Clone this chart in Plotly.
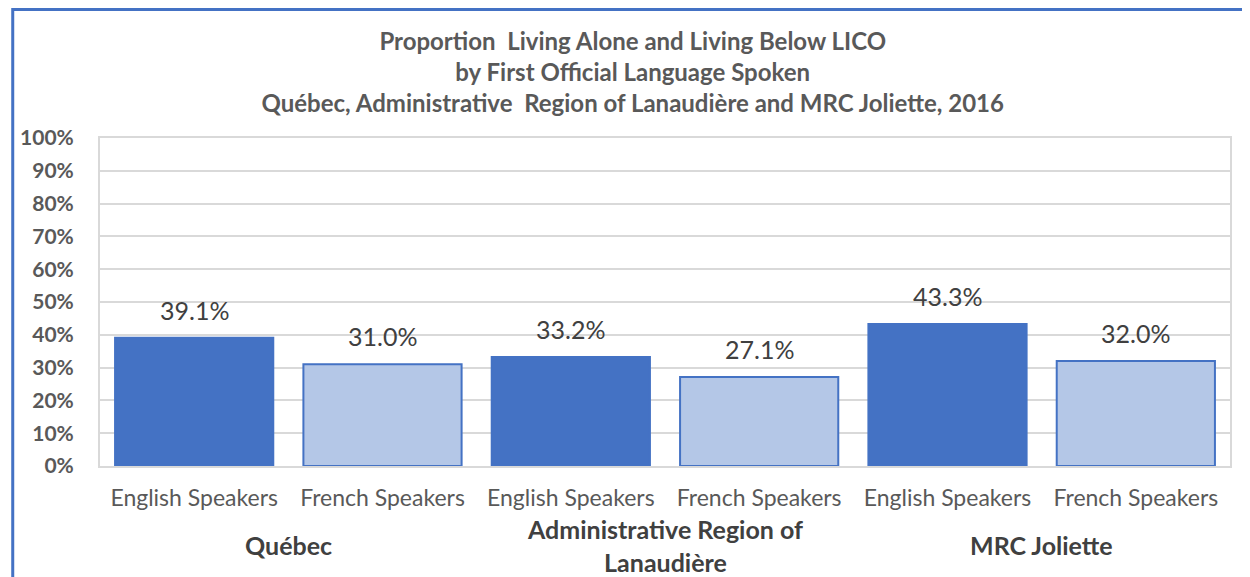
import plotly.graph_objects as go

groups = ["Québec", "Administrative Region of<br>Lanaudière", "MRC Joliette"]
subcats = ["English Speakers", "French Speakers"]
english = [39.1, 33.2, 43.3]
french = [31.0, 27.1, 32.0]
yticks = [0, 10, 20, 30, 40, 50, 60, 70, 80, 90, 100]
title_lines = [
    "Proportion  Living Alone and Living Below LICO",
    "by First Official Language Spoken",
    "Québec, Administrative  Region of Lanaudière and MRC Joliette, 2016",
]

FONT = "Lato, 'Open Sans', sans-serif"
DARK = "#4472C4"
LIGHT = "#B4C7E7"

W, H = 1242, 569
ML, MR, MT, MB = 89, 20, 130, 111
PW = W - ML - MR
PH = H - MT - MB

xs, ys, colors, labels = [], [], [], []
for gi, g in enumerate(groups):
    for si, s in enumerate(subcats):
        xs.append(gi * len(subcats) + si)
        ys.append(english[gi] if si == 0 else french[gi])
        colors.append(DARK if si == 0 else LIGHT)
        labels.append(s)

fig = go.Figure()
fig.add_trace(go.Bar(
    x=xs, y=ys,
    marker=dict(color=colors, line=dict(color=DARK, width=2)),
    width=0.84,
    showlegend=False,
    hoverinfo="skip",
))

for x, y in zip(xs, ys):
    fig.add_annotation(
        x=x, y=y, xref="x", yref="y", text=f"{y:.1f}%", showarrow=False,
        yanchor="middle", yshift=28,
        font=dict(family=FONT, size=25, color="#404040"),
    )

for gi, g in enumerate(groups):
    center = gi * len(subcats) + (len(subcats) - 1) / 2
    fig.add_annotation(
        x=center, xref="x", y=-79 / PH, yref="paper",
        text=f"<b>{g}</b>", showarrow=False, yanchor="middle",
        font=dict(family=FONT, size=25, color="#404040"),
    )

fig.update_layout(
    width=W, height=H,
    margin=dict(l=ML, r=MR, t=MT, b=MB),
    paper_bgcolor="white", plot_bgcolor="white",
    title=dict(
        text="<br>".join(f"<b>{t}</b>" for t in title_lines),
        x=0.503, xanchor="center", y=1 - 42 / H, yanchor="middle",
        font=dict(family=FONT, size=24, color="#595959"),
    ),
    xaxis=dict(
        range=[-0.5, len(xs) - 0.5],
        tickmode="array", tickvals=xs, ticktext=labels,
        tickfont=dict(family=FONT, size=23, color="#595959"),
        showgrid=False, zeroline=False,
        showline=True, linecolor="#d9d9d9", linewidth=2, mirror=True,
        ticks="outside", ticklen=10, tickcolor="rgba(0,0,0,0)",
    ),
    yaxis=dict(
        range=[0, 100], tickmode="array", tickvals=yticks,
        ticktext=[f"{v}%" for v in yticks],
        tickfont=dict(family=FONT, size=21, color="#595959", weight="bold"),
        showgrid=True, gridcolor="#d9d9d9", gridwidth=2,
        zeroline=False,
        showline=True, linecolor="#d9d9d9", linewidth=2, mirror=True,
        ticklabelstandoff=20,
    ),
    shapes=[dict(
        type="rect", xref="paper", yref="paper",
        x0=(1.5 - ML) / PW, x1=1.2, y0=-0.6, y1=1 + (MT - 1.5) / PH,
        line=dict(color=DARK, width=3), fillcolor="rgba(0,0,0,0)", layer="below",
    )],
)

fig.write_html("out.html")
